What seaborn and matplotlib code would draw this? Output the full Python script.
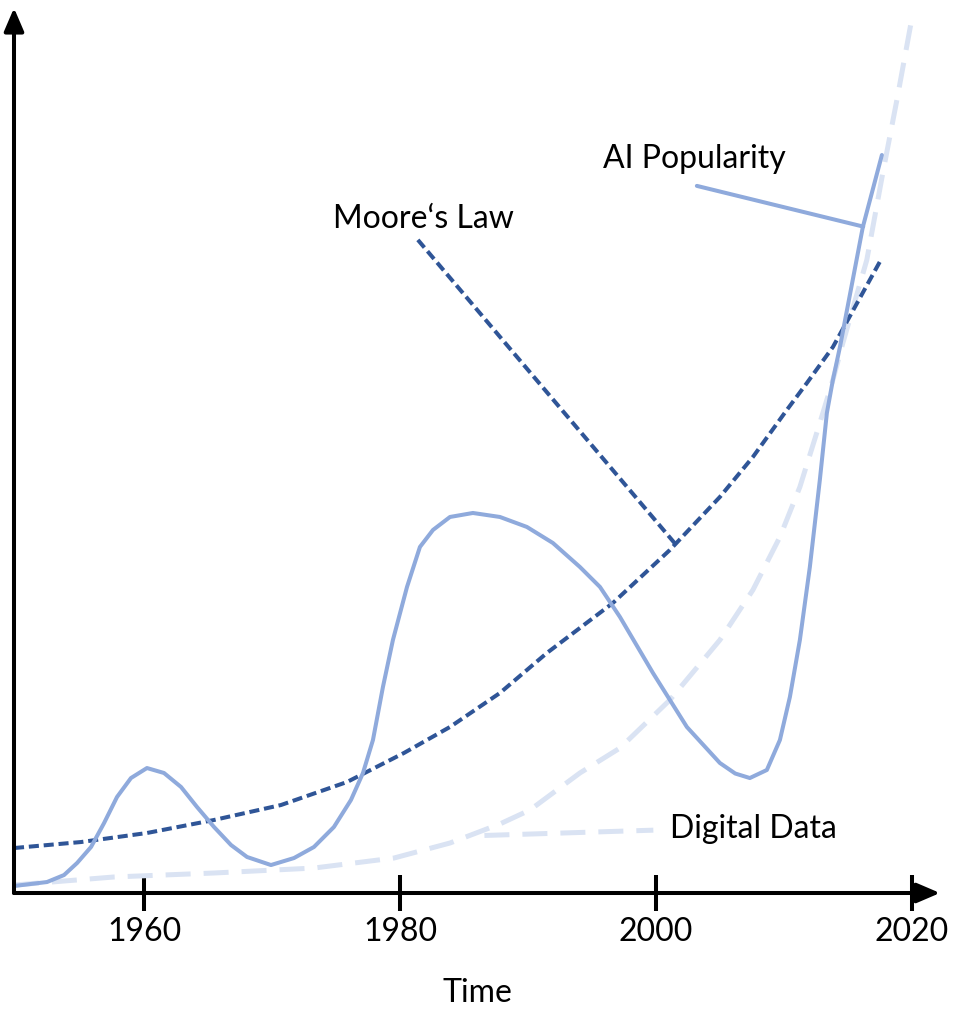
import matplotlib
matplotlib.use("Agg")
import matplotlib.pyplot as plt
import seaborn as sns

# values: year and relative level (0 = time axis, 100 = top of y axis)
ai_years = [1949.84, 1952.42, 1953.75, 1954.77, 1955.86, 1956.88, 1957.89, 1958.98, 1960.23, 1961.56,
            1962.89, 1964.14, 1965.47, 1966.80, 1968.05, 1969.92, 1971.72, 1973.28, 1974.84, 1976.17,
            1977.11, 1977.89, 1978.67, 1979.45, 1980.55, 1981.56, 1982.58, 1983.91, 1985.70, 1987.81,
            1989.92, 1991.95, 1994.06, 1995.63, 1997.19, 1999.77, 2002.42, 2005.00, 2006.20, 2007.34,
            2008.67, 2009.69, 2010.47, 2011.25, 2012.03, 2012.81, 2013.36, 2013.83, 2014.38, 2016.17,
            2017.66]
ai_level = [0.79, 1.24, 2.03, 3.39, 5.20, 7.91, 10.85, 12.99, 14.12, 13.56,
            11.98, 9.72, 7.46, 5.42, 4.07, 3.16, 3.95, 5.20, 7.46, 10.51,
            13.56, 17.29, 23.28, 28.59, 34.58, 39.10, 41.02, 42.49, 42.94, 42.49,
            41.36, 39.55, 36.84, 34.58, 31.19, 24.86, 18.76, 14.69, 13.50, 12.99,
            13.90, 17.29, 22.15, 28.59, 36.84, 46.67, 54.24, 57.97, 61.69, 75.25,
            83.39]

moore_years = [1949.84, 1955.08, 1960.23, 1965.47, 1970.70, 1975.86, 1980.31, 1983.91, 1987.81, 1991.48,
               1996.64, 2001.09, 2005.00, 2007.58, 2010.23, 2011.80, 2013.83, 2017.66]
moore_level = [5.08, 5.76, 6.78, 8.25, 9.94, 12.54, 15.82, 18.76, 22.60, 27.12,
               32.77, 38.76, 44.75, 49.27, 54.58, 57.63, 61.69, 71.75]

data_years = [1949.84, 1957.66, 1965.47, 1973.28, 1979.53, 1983.91, 1987.81, 1990.16, 1994.06, 1997.19,
              2001.09, 2005.00, 2007.58, 2009.69, 2011.25, 2012.81, 2013.83, 2014.61, 2016.48, 2017.73,
              2018.83, 2020.08]
data_level = [0.90, 1.81, 2.26, 2.82, 3.95, 5.65, 7.80, 9.38, 13.56, 16.38,
              21.81, 28.59, 34.24, 40.23, 45.88, 53.11, 57.97, 62.15, 71.53, 81.36,
              89.60, 99.44]

tick_years = [1960, 1980, 2000, 2020]
tick_labels = ["1960", "1980", "2000", "2020"]

ai_color = "#8FAADC"
moore_color = "#2F5597"
data_color = "#DAE3F3"

sns.set_style("white")
plt.rcParams["font.family"] = ["Lato", "DejaVu Sans"]
plt.rcParams["text.color"] = "black"
plt.rcParams["xtick.color"] = "black"
plt.rcParams["axes.labelcolor"] = "black"

fig = plt.figure(figsize=(9.69, 10.31), dpi=100)
ax = fig.add_axes([14 / 969, 138 / 1031, 926 / 969, 885 / 1031])
ax.set_xlim(1949.84, 2022.2)
ax.set_ylim(0, 100)

# curves
sns.lineplot(x=data_years, y=data_level, ax=ax, color=data_color, lw=3.6,
             linestyle=(0, (5, 2.6)))
sns.lineplot(x=moore_years, y=moore_level, ax=ax, color=moore_color, lw=2.9,
             linestyle=(0, (2.5, 1.2)))
sns.lineplot(x=ai_years, y=ai_level, ax=ax, color=ai_color, lw=2.9,
             solid_joinstyle="round")

# labels with leader lines
ax.plot([1986.6, 1999.8], [6.5, 7.1], color=data_color, lw=3.6, ls=(0, (5, 2.6)))
ax.plot([1981.4, 2001.6], [73.8, 39.3], color=moore_color, lw=2.9, ls=(0, (2.5, 1.2)))
ax.plot([2003.2, 2016.2], [79.9, 75.3], color=ai_color, lw=2.9)

ax.text(1974.8, 75.1, "Moore\u2018s Law", fontsize=23, ha="left", va="baseline")
ax.text(1995.9, 81.9, "AI Popularity", fontsize=23, ha="left", va="baseline")
ax.text(2001.1, 6.2, "Digital Data", fontsize=23, ha="left", va="baseline")

# axes drawn as arrows
for s in ax.spines.values():
    s.set_visible(False)
ax.annotate("", xy=(1, 0), xytext=(0, 0), xycoords="axes fraction",
            arrowprops=dict(arrowstyle="-|>,head_length=0.7,head_width=0.3",
                            color="black", lw=2.9, mutation_scale=20, shrinkA=0, shrinkB=0))
ax.annotate("", xy=(0, 1), xytext=(0, 0), xycoords="axes fraction",
            arrowprops=dict(arrowstyle="-|>,head_length=0.7,head_width=0.3",
                            color="black", lw=2.9, mutation_scale=20, shrinkA=0, shrinkB=0))

ax.set_xticks(tick_years)
ax.set_xticklabels(tick_labels)
ax.set_yticks([])
ax.tick_params(axis="x", direction="inout", length=26.5, width=2.9, color="black",
               labelcolor="black", labelsize=23, pad=4, bottom=True)
ax.set_xlabel("Time", fontsize=23, labelpad=22)
ax.set_ylabel("")

fig.savefig("out.png", dpi=100)
